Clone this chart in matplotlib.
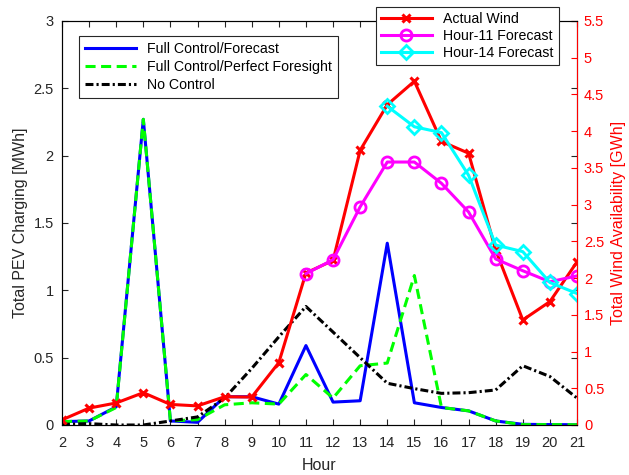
import matplotlib.pyplot as plt
import numpy as np

plt.rcParams['font.family'] = ['Liberation Sans', 'DejaVu Sans']

hours = np.arange(2, 22)
full_forecast = [0.025, 0.03, 0.135, 2.27, 0.03, 0.02, 0.21, 0.21, 0.155, 0.59,
                 0.17, 0.18, 1.35, 0.165, 0.13, 0.105, 0.03, 0.005, 0.003, 0.002]
full_perfect = [0.025, 0.03, 0.13, 2.27, 0.03, 0.04, 0.15, 0.165, 0.155, 0.375,
                0.2, 0.44, 0.46, 1.11, 0.13, 0.105, 0.03, 0.003, 0.003, 0.002]
no_control = [0.005, 0.01, 0.0, 0.0, 0.03, 0.06, 0.2, 0.42, 0.655, 0.88,
              0.69, 0.5, 0.31, 0.27, 0.235, 0.24, 0.26, 0.44, 0.36, 0.2]

actual_wind = [0.07, 0.23, 0.30, 0.44, 0.28, 0.26, 0.385, 0.38, 0.85, 2.07,
               2.24, 3.74, 4.36, 4.68, 3.86, 3.70, 2.38, 1.43, 1.68, 2.22]
hours_11 = np.arange(11, 22)
fc_hour11 = [2.06, 2.25, 2.97, 3.58, 3.58, 3.29, 2.90, 2.26, 2.10, 1.95, 2.03]
hours_14 = np.arange(14, 22)
fc_hour14 = [4.34, 4.06, 3.98, 3.40, 2.45, 2.36, 1.94, 1.79]

gray = (0.15, 0.15, 0.15)

fig = plt.figure(figsize=(6.29, 4.75), dpi=100)
ax = fig.add_axes([62 / 629, 50 / 475, 515 / 629, 404 / 475])
ax2 = ax.twinx()

l1, = ax.plot(hours, full_forecast, color='#0000ff', lw=2.2)
l2, = ax.plot(hours, full_perfect, color='#00ff00', lw=2.2, ls=(0, (3.3, 1.8)))
l3, = ax.plot(hours, no_control, color='black', lw=2.2,
              ls=(0, (2.6, 1.0, 0.7, 1.0)))

r1, = ax2.plot(hours, actual_wind, color='#ff0000', lw=2.2, marker='x',
               ms=6, mew=2.2)
r2, = ax2.plot(hours_11, fc_hour11, color='#ff00ff', lw=2.2, marker='o',
               ms=8, mew=2, mfc='none')
r3, = ax2.plot(hours_14, fc_hour14, color='#00ffff', lw=2.2, marker='D',
               ms=7, mew=2, mfc='none')

ax.set_xlim(2, 21)
ax.set_ylim(0, 3)
ax.set_xticks(hours)
ax.set_yticks(np.arange(0, 3.01, 0.5))
ax.set_yticklabels(['0', '0.5', '1', '1.5', '2', '2.5', '3'])
ax.tick_params(direction='in', top=True, right=True, length=4, width=0.8,
               colors=gray, labelsize=10.5, labelcolor=gray)
ax.tick_params(axis='x', pad=8)
ax.tick_params(axis='y', pad=6)
ax.set_xlabel('Hour', fontsize=11.5, color=gray, labelpad=6)
ax.set_ylabel('Total PEV Charging [MWh]', fontsize=11.5, color=gray,
              labelpad=4)
for s in ['left', 'bottom', 'top']:
    ax.spines[s].set_color(gray)

ax2.set_ylim(0, 5.5)
ax2.set_yticks(np.arange(0, 5.51, 0.5))
ax2.set_yticklabels(['0', '0.5', '1', '1.5', '2', '2.5', '3', '3.5', '4',
                     '4.5', '5', '5.5'])
ax2.tick_params(direction='in', length=4, width=0.8, colors='#ff0000',
                labelsize=10.5, pad=5)
ax2.spines['right'].set_color('#ff0000')
ax2.set_ylabel('Total Wind Availability [GWh]', fontsize=11.5, color='#ff0000',
               labelpad=5)

leg1 = ax.legend([l1, l2, l3],
                 ['Full Control/Forecast', 'Full Control/Perfect Foresight', 'No Control'],
                 loc='upper left', bbox_to_anchor=(79 / 629, 1 - 36 / 475),
                 bbox_transform=fig.transFigure, fontsize=10.2, fancybox=False,
                 framealpha=1, edgecolor=gray, handlelength=3.6,
                 labelspacing=0.28, borderpad=0.42, borderaxespad=0)
leg1.get_frame().set_linewidth(0.8)

leg2 = ax2.legend([r1, r2, r3],
                  ['Actual Wind', 'Hour-11 Forecast', 'Hour-14 Forecast'],
                  loc='upper left', bbox_to_anchor=(376 / 629, 1 - 7 / 475),
                  bbox_transform=fig.transFigure, fontsize=10.2, fancybox=False,
                  framealpha=1, edgecolor=gray, handlelength=3.6,
                  labelspacing=0.22, borderpad=0.35, borderaxespad=0)
leg2.get_frame().set_linewidth(0.8)
leg2.set_zorder(10)
ax2.set_zorder(2)
ax.set_zorder(1)
ax2.patch.set_visible(False)

fig.savefig('out.png', dpi=100)
